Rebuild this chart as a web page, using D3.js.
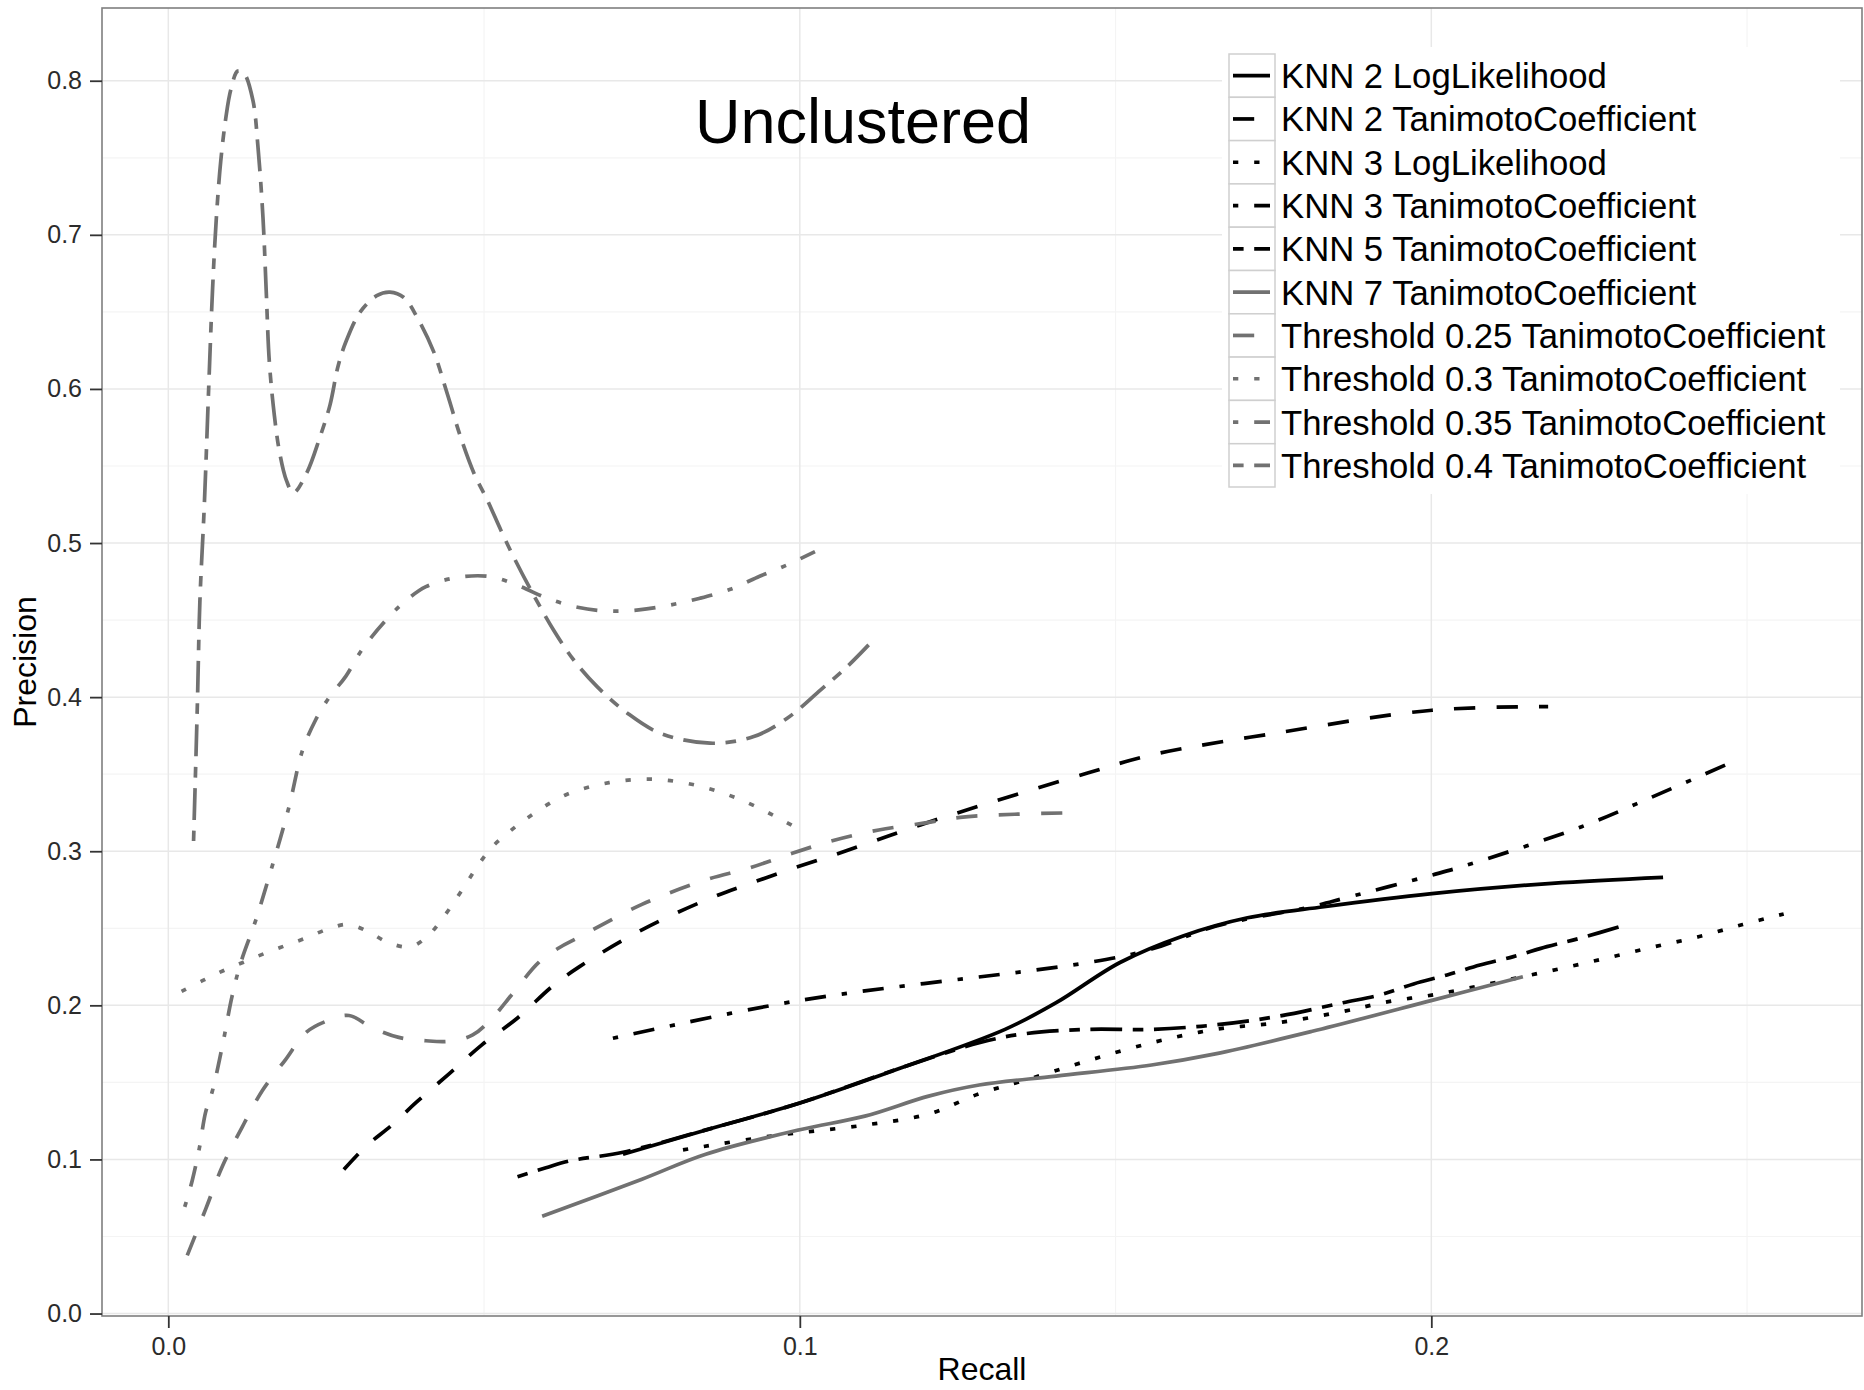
<!DOCTYPE html>
<html>
<head>
<meta charset="utf-8">
<script src="https://cdn.jsdelivr.net/npm/d3@7"></script>
<style>
  body { margin: 0; background: #fff; }
  svg { display: block; font-family: "Liberation Sans", Arial, sans-serif; }
</style>
</head>
<body>
<svg id="chart" width="1864" height="1390"></svg>
<script>
// legend order = drawing order
const seriesNames = [
  'KNN 2 LogLikelihood', 'KNN 2 TanimotoCoefficient', 'KNN 3 LogLikelihood',
  'KNN 3 TanimotoCoefficient', 'KNN 5 TanimotoCoefficient', 'KNN 7 TanimotoCoefficient',
  'Threshold 0.25 TanimotoCoefficient', 'Threshold 0.3 TanimotoCoefficient',
  'Threshold 0.35 TanimotoCoefficient', 'Threshold 0.4 TanimotoCoefficient'
];

const knn2LogX = [0.0720, 0.0850, 0.1000, 0.1153, 0.1325, 0.1406, 0.1507, 0.1608, 0.1709, 0.1830, 0.2001, 0.2191, 0.2367];
const knn2LogY = [0.1033, 0.1190, 0.1366, 0.1583, 0.1844, 0.2017, 0.2278, 0.2452, 0.2568, 0.2640, 0.2725, 0.2792, 0.2831];

const knn2TanX = [0.0278, 0.0313, 0.0355, 0.0392, 0.0445, 0.0497, 0.0553, 0.0608, 0.0650, 0.0750, 0.0858, 0.0922, 0.0990, 0.1054, 0.1122, 0.1191, 0.1305, 0.1457, 0.1557, 0.1759, 0.2001, 0.2185];
const knn2TanY = [0.0934, 0.1085, 0.1226, 0.1368, 0.1557, 0.1745, 0.1918, 0.2123, 0.2248, 0.2490, 0.2695, 0.2792, 0.2890, 0.2976, 0.3073, 0.3171, 0.3320, 0.3509, 0.3625, 0.3770, 0.3915, 0.3939];

const knn3LogX = [0.0815, 0.0952, 0.1103, 0.1204, 0.1284, 0.1355, 0.1446, 0.1557, 0.1658, 0.1759, 0.1860, 0.1932, 0.2003, 0.2075, 0.2145, 0.2214, 0.2283, 0.2354, 0.2423, 0.2493, 0.2558];
const knn3LogY = [0.1062, 0.1150, 0.1223, 0.1295, 0.1426, 0.1512, 0.1628, 0.1757, 0.1844, 0.1888, 0.1960, 0.2024, 0.2068, 0.2126, 0.2186, 0.2247, 0.2312, 0.2381, 0.2445, 0.2524, 0.2593];

const knn3TanX = [0.0704, 0.1000, 0.1457, 0.1557, 0.1658, 0.1810, 0.1864, 0.2001, 0.2054, 0.2239, 0.2362, 0.2481];
const knn3TanY = [0.1786, 0.2032, 0.2278, 0.2365, 0.2513, 0.2640, 0.2697, 0.2845, 0.2907, 0.3161, 0.3374, 0.3587];

const knn5TanX = [0.0553, 0.0598, 0.0635, 0.0720, 0.0850, 0.1000, 0.1150, 0.1284, 0.1355, 0.1457, 0.1557, 0.1658, 0.1759, 0.1860, 0.1919, 0.1972, 0.2025, 0.2077, 0.2130, 0.2183, 0.2236, 0.2307];
const knn5TanY = [0.0888, 0.0946, 0.0990, 0.1047, 0.1190, 0.1366, 0.1580, 0.1757, 0.1815, 0.1844, 0.1844, 0.1873, 0.1930, 0.2017, 0.2068, 0.2139, 0.2197, 0.2262, 0.2316, 0.2381, 0.2436, 0.2522];

const knn7TanX = [0.0592, 0.0750, 0.0851, 0.1000, 0.1103, 0.1204, 0.1284, 0.1406, 0.1557, 0.1658, 0.1810, 0.2001, 0.2145];
const knn7TanY = [0.0631, 0.0872, 0.1034, 0.1193, 0.1281, 0.1411, 0.1483, 0.1541, 0.1613, 0.1685, 0.1830, 0.2032, 0.2186];

const thr025X = [0.0030, 0.0059, 0.0086, 0.0117, 0.0149, 0.0186, 0.0218, 0.0254, 0.0286, 0.0323, 0.0365, 0.0408, 0.0445, 0.0482, 0.0513, 0.0545, 0.0587, 0.0619, 0.0648, 0.0750, 0.0851, 0.0919, 0.0988, 0.1056, 0.1125, 0.1196, 0.1254, 0.1340, 0.1426];
const thr025Y = [0.0377, 0.0676, 0.0959, 0.1210, 0.1447, 0.1650, 0.1824, 0.1903, 0.1934, 0.1855, 0.1792, 0.1770, 0.1767, 0.1808, 0.1918, 0.2075, 0.2280, 0.2374, 0.2437, 0.2655, 0.2814, 0.2890, 0.2987, 0.3073, 0.3138, 0.3182, 0.3220, 0.3240, 0.3249];

const thr03X = [0.0021, 0.0054, 0.0086, 0.0119, 0.0152, 0.0185, 0.0218, 0.0252, 0.0285, 0.0318, 0.0349, 0.0384, 0.0413, 0.0434, 0.0454, 0.0474, 0.0492, 0.0513, 0.0539, 0.0568, 0.0629, 0.0698, 0.0769, 0.0840, 0.0907, 0.0972, 0.0998];
const thr03Y = [0.2091, 0.2160, 0.2223, 0.2280, 0.2336, 0.2387, 0.2437, 0.2494, 0.2525, 0.2475, 0.2406, 0.2380, 0.2459, 0.2563, 0.2679, 0.2805, 0.2918, 0.3028, 0.3123, 0.3214, 0.3365, 0.3445, 0.3467, 0.3424, 0.3333, 0.3203, 0.3143];

const thr035X = [0.0026, 0.0038, 0.0049, 0.0059, 0.0070, 0.0086, 0.0101, 0.0115, 0.0138, 0.0165, 0.0191, 0.0212, 0.0233, 0.0254, 0.0281, 0.0307, 0.0344, 0.0371, 0.0408, 0.0460, 0.0510, 0.0555, 0.0600, 0.0648, 0.0695, 0.0745, 0.0795, 0.0842, 0.0890, 0.0933, 0.0980, 0.1024];
const thr035Y = [0.0692, 0.0865, 0.1070, 0.1305, 0.1447, 0.1745, 0.2060, 0.2280, 0.2547, 0.2910, 0.3286, 0.3648, 0.3850, 0.3994, 0.4135, 0.4310, 0.4497, 0.4607, 0.4717, 0.4778, 0.4782, 0.4722, 0.4642, 0.4583, 0.4559, 0.4566, 0.4598, 0.4642, 0.4700, 0.4778, 0.4858, 0.4944];

const thr04X = [0.0040, 0.0046, 0.0050, 0.0057, 0.0064, 0.0070, 0.0076, 0.0083, 0.0091, 0.0099, 0.0110, 0.0120, 0.0134, 0.0142, 0.0150, 0.0155, 0.0160, 0.0168, 0.0176, 0.0187, 0.0198, 0.0219, 0.0240, 0.0256, 0.0269, 0.0282, 0.0304, 0.0330, 0.0351, 0.0373, 0.0394, 0.0420, 0.0442, 0.0463, 0.0484, 0.0505, 0.0527, 0.0548, 0.0574, 0.0610, 0.0642, 0.0679, 0.0727, 0.0779, 0.0858, 0.0927, 0.0980, 0.1033, 0.1075, 0.1109];
const thr04Y = [0.3066, 0.3950, 0.4621, 0.5244, 0.6012, 0.6640, 0.7105, 0.7477, 0.7756, 0.7942, 0.8063, 0.8047, 0.7872, 0.7570, 0.7105, 0.6640, 0.6174, 0.5826, 0.5593, 0.5407, 0.5326, 0.5453, 0.5686, 0.5895, 0.6151, 0.6314, 0.6500, 0.6605, 0.6628, 0.6593, 0.6465, 0.6244, 0.5965, 0.5686, 0.5453, 0.5280, 0.5080, 0.4900, 0.4696, 0.4436, 0.4241, 0.4068, 0.3896, 0.3766, 0.3701, 0.3744, 0.3863, 0.4047, 0.4198, 0.4339];

const xTicks = [0.0, 0.1, 0.2];
const xTickLabels = ['0.0', '0.1', '0.2'];
const yTicks = [0.0, 0.1, 0.2, 0.3, 0.4, 0.5, 0.6, 0.7, 0.8];
const yTickLabels = ['0.0', '0.1', '0.2', '0.3', '0.4', '0.5', '0.6', '0.7', '0.8'];
const xMinor = [0.05, 0.15, 0.25];
const yMinor = [0.05, 0.15, 0.25, 0.35, 0.45, 0.55, 0.65, 0.75];

const BLACK = '#000000', GREY = '#717171';
const u = 5.3; // dash unit
const dashes = {
  solid: null,
  '44': [4 * u, 4 * u],
  '13': [u, 3 * u],
  '1343': [u, 3 * u, 4 * u, 3 * u],
  '2262': [2 * u, 2 * u, 6 * u, 2 * u]
};

const series = [
  {x: knn2LogX, y: knn2LogY, color: BLACK, lt: 'solid'},
  {x: knn2TanX, y: knn2TanY, color: BLACK, lt: '44'},
  {x: knn3LogX, y: knn3LogY, color: BLACK, lt: '13'},
  {x: knn3TanX, y: knn3TanY, color: BLACK, lt: '1343'},
  {x: knn5TanX, y: knn5TanY, color: BLACK, lt: '2262'},
  {x: knn7TanX, y: knn7TanY, color: GREY, lt: 'solid'},
  {x: thr025X, y: thr025Y, color: GREY, lt: '44'},
  {x: thr03X, y: thr03Y, color: GREY, lt: '13'},
  {x: thr035X, y: thr035Y, color: GREY, lt: '1343'},
  {x: thr04X, y: thr04Y, color: GREY, lt: '2262'}
].map((s, i) => ({...s, name: seriesNames[i], pts: d3.zip(s.x, s.y)}));

const panel = {left: 102, top: 8, right: 1862, bottom: 1316};
const x = d3.scaleLinear().domain([-0.0105, 0.2682]).range([panel.left, panel.right]);
const y = d3.scaleLinear().domain([-0.0016, 0.8472]).range([panel.bottom, panel.top]);

const svg = d3.select('#chart');
svg.append('rect').attr('width', 1864).attr('height', 1390).attr('fill', '#fff');

svg.append('clipPath').attr('id', 'clip')
  .append('rect')
  .attr('x', panel.left).attr('y', panel.top)
  .attr('width', panel.right - panel.left).attr('height', panel.bottom - panel.top);

// grid
const grid = svg.append('g');
grid.selectAll('.vmin').data(xMinor).join('line')
  .attr('x1', d => x(d)).attr('x2', d => x(d))
  .attr('y1', panel.top).attr('y2', panel.bottom)
  .attr('stroke', '#f4f4f4').attr('stroke-width', 1.2);
grid.selectAll('.hmin').data(yMinor).join('line')
  .attr('y1', d => y(d)).attr('y2', d => y(d))
  .attr('x1', panel.left).attr('x2', panel.right)
  .attr('stroke', '#f4f4f4').attr('stroke-width', 1.2);
grid.selectAll('.vmaj').data(xTicks).join('line')
  .attr('x1', d => x(d)).attr('x2', d => x(d))
  .attr('y1', panel.top).attr('y2', panel.bottom)
  .attr('stroke', '#e8e8e8').attr('stroke-width', 1.5);
grid.selectAll('.hmaj').data(yTicks).join('line')
  .attr('y1', d => y(d)).attr('y2', d => y(d))
  .attr('x1', panel.left).attr('x2', panel.right)
  .attr('stroke', '#e8e8e8').attr('stroke-width', 1.5);

// curves
const line = d3.line().x(d => x(d[0])).y(d => y(d[1])).curve(d3.curveCatmullRom.alpha(0.5));
svg.append('g').attr('clip-path', 'url(#clip)')
  .selectAll('path').data(series).join('path')
  .attr('d', d => line(d.pts))
  .attr('fill', 'none')
  .attr('stroke', d => d.color)
  .attr('stroke-width', 3.7)
  .attr('stroke-dasharray', d => dashes[d.lt] ? dashes[d.lt].join(',') : null);

// annotation
svg.append('text')
  .attr('x', 863).attr('y', 143)
  .attr('text-anchor', 'middle')
  .attr('font-size', 63)
  .attr('fill', '#000')
  .text('Unclustered');

// legend
const lg = svg.append('g');
const rowH = 43.3, keyW = 46, lgX = 1229, lgY = 54;
lg.append('rect').attr('x', lgX - 7).attr('y', lgY - 7)
  .attr('width', 618).attr('height', rowH * series.length + 14)
  .attr('fill', '#fff');
const rows = lg.selectAll('g').data(series).join('g')
  .attr('transform', (d, i) => `translate(${lgX},${lgY + i * rowH})`);
rows.append('rect').attr('width', keyW).attr('height', rowH)
  .attr('fill', '#fff').attr('stroke', '#cfcfcf').attr('stroke-width', 1.5);
rows.append('line')
  .attr('x1', 4).attr('x2', 41).attr('y1', rowH / 2).attr('y2', rowH / 2)
  .attr('stroke', d => d.color).attr('stroke-width', 3.7)
  .attr('stroke-dasharray', d => dashes[d.lt] ? dashes[d.lt].join(',') : null);
rows.append('text')
  .attr('x', 52).attr('y', rowH / 2 + 12.5)
  .attr('font-size', 34.7).attr('fill', '#000')
  .text(d => d.name);

// panel border
svg.append('rect')
  .attr('x', panel.left).attr('y', panel.top)
  .attr('width', panel.right - panel.left).attr('height', panel.bottom - panel.top)
  .attr('fill', 'none').attr('stroke', '#7f7f7f').attr('stroke-width', 1.6);

// axes
const yAxis = svg.append('g')
  .attr('transform', `translate(${panel.left},0)`)
  .call(d3.axisLeft(y).tickValues(yTicks).tickFormat((d, i) => yTickLabels[i]).tickSize(12).tickPadding(8));
const xAxis = svg.append('g')
  .attr('transform', `translate(0,${panel.bottom})`)
  .call(d3.axisBottom(x).tickValues(xTicks).tickFormat((d, i) => xTickLabels[i]).tickSize(12).tickPadding(9));
[xAxis, yAxis].forEach(a => {
  a.select('.domain').remove();
  a.selectAll('.tick line').attr('stroke', '#333').attr('stroke-width', 1.8);
  a.selectAll('.tick text').attr('font-size', 25).attr('fill', '#2b2b2b')
    .attr('font-family', '"Liberation Sans", Arial, sans-serif');
});

svg.append('text')
  .attr('x', 982).attr('y', 1380)
  .attr('text-anchor', 'middle').attr('font-size', 32).attr('fill', '#000')
  .text('Recall');
svg.append('text')
  .attr('transform', 'translate(36,662) rotate(-90)')
  .attr('text-anchor', 'middle').attr('font-size', 32).attr('fill', '#000')
  .text('Precision');
</script>
</body>
</html>
